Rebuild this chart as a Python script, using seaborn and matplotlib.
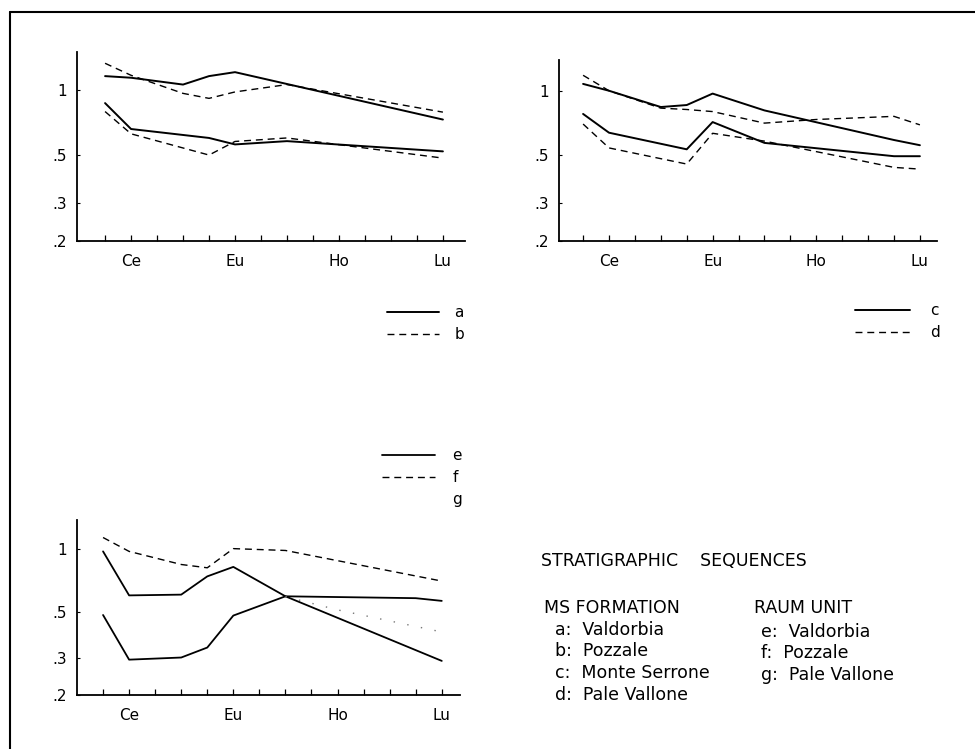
import numpy as np
import pandas as pd
import matplotlib.pyplot as plt
from matplotlib.lines import Line2D
import seaborn as sns

# ── DATA ──────────────────────────────────────────────────────
elements = ["La", "Ce", "Pr", "Nd", "Sm", "Eu", "Gd", "Tb", "Dy", "Ho", "Er", "Tm", "Yb", "Lu"]
labelled = ["Ce", "Eu", "Ho", "Lu"]
y_ticks = [0.2, 0.3, 0.5, 1]
y_tick_labels = [".2", ".3", ".5", "1"]

#            La     Ce     Pr    Nd     Sm     Eu     Gd    Tb     Dy    Ho     Er    Tm    Yb     Lu
a_1 = [1.16,  1.14,  None, 1.06,  1.16,  1.21,  None, None,  None, None,  None, None, None,  0.73]
a_2 = [0.87,  0.66,  None, None,  0.60,  0.56,  None, 0.58,  None, None,  None, None, None,  0.52]
b_1 = [1.33,  1.17,  None, 0.965, 0.915, 0.98,  None, 1.06,  None, None,  None, None, None,  0.79]
b_2 = [0.795, 0.627, None, None,  0.50,  0.578, None, 0.60,  None, None,  None, None, None,  0.484]

c_1 = [1.076, 1.0,   None, 0.84,  0.858, 0.97,  None, 0.81,  None, None,  None, None, 0.59,  0.558]
c_2 = [0.78,  0.638, None, None,  0.534, 0.715, None, 0.572, None, None,  None, None, 0.496, 0.496]
d_1 = [1.18,  1.0,   None, 0.83,  0.818, 0.80,  None, 0.707, None, 0.735, None, None, 0.76,  0.694]
d_2 = [0.70,  0.542, None, None,  0.456, 0.634, None, 0.583, None, None,  None, None, 0.44,  0.432]

e_1 = [0.97,  0.598, None, 0.603, 0.737, 0.818, None, 0.592, None, None,  None, None, None,  0.291]
e_2 = [0.482, 0.295, None, 0.302, 0.337, 0.479, None, 0.592, None, None,  None, None, 0.58,  0.563]
f_1 = [1.13,  0.97,  None, 0.84,  0.81,  1.0,   None, 0.98,  None, None,  None, None, None,  0.70]
g_1 = [None,  None,  None, None,  None,  None,  None, 0.59,  None, 0.51,  None, None, None,  0.40]

panels = [
    {"series": [("a", a_1), ("a", a_2), ("b", b_1), ("b", b_2)], "ymax": 1.5},
    {"series": [("c", c_1), ("c", c_2), ("d", d_1), ("d", d_2)], "ymax": 1.39},
    {"series": [("e", e_1), ("e", e_2), ("f", f_1), ("g", g_1)], "ymax": 1.37},
]

dash = (0, (5, 3.5))
styles = {
    "a": dict(color="black", linestyle="-", lw=1.4),
    "b": dict(color="black", linestyle=dash, lw=1.0),
    "c": dict(color="black", linestyle="-", lw=1.4),
    "d": dict(color="black", linestyle=dash, lw=1.0),
    "e": dict(color="black", linestyle="-", lw=1.3),
    "f": dict(color="black", linestyle=dash, lw=1.0),
    "g": dict(color="#777777", linestyle=(0, (1, 9)), lw=1.0),
}

# ── FIGURE ────────────────────────────────────────────────────
sns.set_style("ticks")
plt.rcParams["font.family"] = ["DejaVu Sans"]
plt.rcParams["text.color"] = "black"
plt.rcParams["xtick.color"] = "black"
plt.rcParams["ytick.color"] = "black"
plt.rcParams["axes.edgecolor"] = "black"

W, H = 975, 749
fig = plt.figure(figsize=(W / 100, H / 100), dpi=100)


def box(left, top, right, bottom):
    return [left / W, 1 - bottom / H, (right - left) / W, (bottom - top) / H]


axes_boxes = [box(77, 52, 465, 241), box(559, 60, 937, 241), box(77, 520, 460, 695)]
xlims = [(-1.08, 13.85), (-0.93, 13.66), (-1.0, 13.7)]

x_pos = np.arange(len(elements))

for p, rect, xl in zip(panels, axes_boxes, xlims):
    ax = fig.add_axes(rect)
    for name, vals in p["series"]:
        df = pd.DataFrame({"x": x_pos, "y": vals}).dropna()
        df["y"] = df["y"].astype(float)
        sns.lineplot(data=df, x="x", y="y", ax=ax, estimator=None, sort=True, **styles[name])
    ax.set_yscale("log")
    ax.set_ylim(0.2, p["ymax"])
    ax.set_xlim(*xl)
    ax.set_yticks(y_ticks)
    ax.set_yticklabels(y_tick_labels)
    ax.yaxis.set_minor_locator(plt.NullLocator())
    ax.set_xticks(x_pos)
    ax.set_xticklabels([el if el in labelled else "" for el in elements])
    ax.tick_params(axis="x", direction="in", length=4, width=0.9, pad=9, labelsize=11)
    ax.tick_params(axis="y", direction="in", length=2, width=0.8, pad=7, labelsize=11)
    ax.set_xlabel("")
    ax.set_ylabel("")
    for s in ["left", "bottom"]:
        ax.spines[s].set_linewidth(1.3)
    sns.despine(ax=ax)

# ── LEGENDS ───────────────────────────────────────────────────
def add_legend(names, x, y, hlen, pad):
    handles = [Line2D([], [], **styles[n]) for n in names]
    if "g" in names:
        handles[-1] = Line2D([], [], color="none")
    fig.legend(handles, names, loc="upper left", bbox_to_anchor=(x / W, 1 - y / H),
               frameon=False, fontsize=11, handlelength=hlen, handletextpad=pad,
               labelspacing=0.45, borderpad=0, borderaxespad=0)


add_legend(["a", "b"], 387, 305, 3.4, 1.0)
add_legend(["c", "d"], 855, 303, 3.6, 1.3)
add_legend(["e", "f", "g"], 382, 448, 3.5, 1.1)

# ── TEXT BLOCK ────────────────────────────────────────────────
fs = 12.5
fig.text(541 / W, 1 - 561 / H, "STRATIGRAPHIC    SEQUENCES", fontsize=fs, va="center")
fig.text(544 / W, 1 - 608 / H, "MS FORMATION", fontsize=fs, va="center")
ms_items = ["a:  Valdorbia", "b:  Pozzale", "c:  Monte Serrone", "d:  Pale Vallone"]
for k, t in enumerate(ms_items):
    fig.text(555 / W, 1 - (630 + 21.5 * k) / H, t, fontsize=fs, va="center")
fig.text(754 / W, 1 - 608 / H, "RAUM UNIT", fontsize=fs, va="center")
raum_items = ["e:  Valdorbia", "f:  Pozzale", "g:  Pale Vallone"]
for k, t in enumerate(raum_items):
    fig.text(761 / W, 1 - (632 + 21.5 * k) / H, t, fontsize=fs, va="center")

# page frame (top and left edges)
fig.add_artist(Line2D([10 / W, 1], [1 - 12 / H, 1 - 12 / H], color="black", lw=1.5))
fig.add_artist(Line2D([10 / W, 10 / W], [0, 1 - 12 / H], color="black", lw=1.5))

plt.savefig("out.png", dpi=100)
